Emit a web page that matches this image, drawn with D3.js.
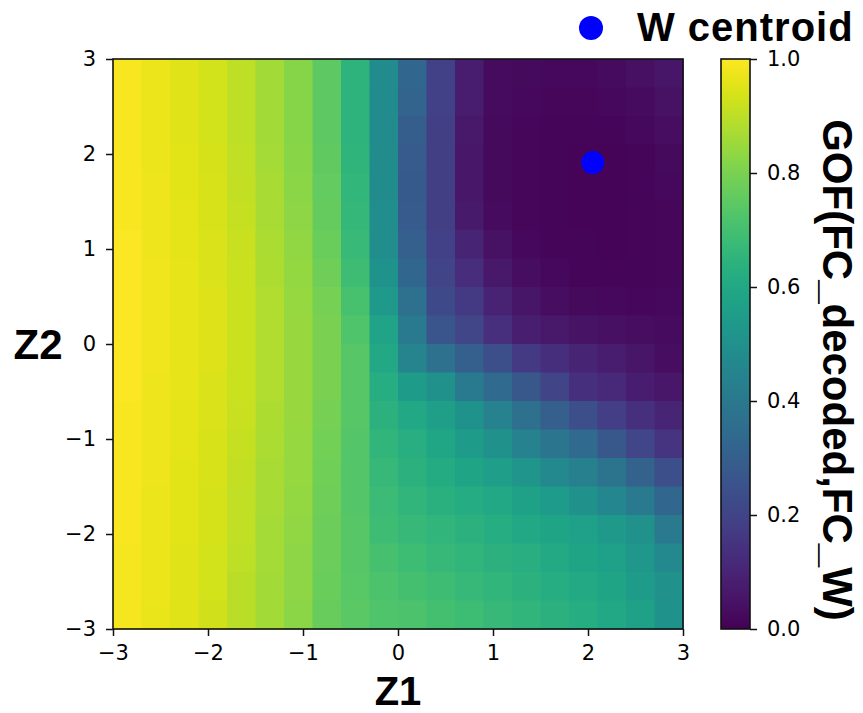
<!DOCTYPE html>
<html>
<head>
<meta charset="utf-8">
<script src="https://cdn.jsdelivr.net/npm/d3@7"></script>
<style>
  body { margin: 0; background: #fff; }
  svg { display: block; }
</style>
</head>
<body>
<script>
// Cell edges of the latent grid (Z1 left→right, Z2 top→bottom)
const z1Edges = [-3, -2.7, -2.4, -2.1, -1.8, -1.5, -1.2, -0.9, -0.6, -0.3, 0, 0.3, 0.6, 0.9, 1.2, 1.5, 1.8, 2.1, 2.4, 2.7, 3];
const z2Edges = [3, 2.7, 2.4, 2.1, 1.8, 1.5, 1.2, 0.9, 0.6, 0.3, 0, -0.3, -0.6, -0.9, -1.2, -1.5, -1.8, -2.1, -2.4, -2.7, -3];

// GOF(FC_decoded, FC_W) per cell; one row per Z2 band, from Z2 = 3 down to Z2 = -3
const gofRows = [
  [0.99, 0.97, 0.952, 0.93, 0.9, 0.862, 0.82, 0.75, 0.645, 0.48, 0.33, 0.19, 0.08, 0.03, 0.025, 0.02, 0.022, 0.03, 0.04, 0.055],
  [0.99, 0.97, 0.952, 0.93, 0.9, 0.862, 0.82, 0.75, 0.645, 0.48, 0.32, 0.19, 0.075, 0.028, 0.02, 0.016, 0.016, 0.02, 0.03, 0.045],
  [0.99, 0.97, 0.953, 0.932, 0.902, 0.863, 0.82, 0.75, 0.648, 0.48, 0.295, 0.185, 0.065, 0.025, 0.018, 0.014, 0.012, 0.014, 0.02, 0.035],
  [0.99, 0.972, 0.955, 0.935, 0.905, 0.865, 0.822, 0.755, 0.652, 0.481, 0.285, 0.185, 0.06, 0.025, 0.016, 0.012, 0.01, 0.01, 0.014, 0.025],
  [0.99, 0.974, 0.957, 0.938, 0.908, 0.868, 0.825, 0.76, 0.658, 0.482, 0.28, 0.185, 0.06, 0.025, 0.016, 0.012, 0.01, 0.01, 0.012, 0.02],
  [0.99, 0.975, 0.959, 0.94, 0.912, 0.871, 0.83, 0.765, 0.665, 0.485, 0.282, 0.185, 0.07, 0.03, 0.017, 0.012, 0.01, 0.01, 0.012, 0.018],
  [0.995, 0.976, 0.96, 0.943, 0.915, 0.874, 0.833, 0.77, 0.675, 0.49, 0.3, 0.19, 0.1, 0.045, 0.022, 0.014, 0.012, 0.011, 0.012, 0.018],
  [0.995, 0.977, 0.961, 0.945, 0.918, 0.877, 0.837, 0.78, 0.69, 0.505, 0.33, 0.2, 0.125, 0.065, 0.035, 0.02, 0.015, 0.013, 0.013, 0.018],
  [0.995, 0.977, 0.962, 0.946, 0.92, 0.879, 0.841, 0.79, 0.71, 0.54, 0.37, 0.22, 0.17, 0.095, 0.055, 0.035, 0.026, 0.022, 0.018, 0.02],
  [0.995, 0.977, 0.962, 0.946, 0.92, 0.88, 0.845, 0.797, 0.725, 0.58, 0.41, 0.26, 0.21, 0.135, 0.085, 0.065, 0.048, 0.04, 0.032, 0.028],
  [0.995, 0.977, 0.962, 0.946, 0.92, 0.88, 0.846, 0.8, 0.735, 0.6, 0.45, 0.37, 0.3, 0.24, 0.17, 0.13, 0.1, 0.075, 0.055, 0.035],
  [0.995, 0.976, 0.961, 0.945, 0.918, 0.879, 0.846, 0.797, 0.738, 0.62, 0.55, 0.5, 0.41, 0.34, 0.27, 0.2, 0.14, 0.11, 0.08, 0.06],
  [0.99, 0.975, 0.96, 0.943, 0.915, 0.877, 0.845, 0.792, 0.736, 0.64, 0.6, 0.56, 0.51, 0.44, 0.37, 0.3, 0.24, 0.18, 0.14, 0.1],
  [0.99, 0.974, 0.958, 0.94, 0.912, 0.874, 0.843, 0.787, 0.734, 0.655, 0.625, 0.59, 0.55, 0.5, 0.44, 0.39, 0.34, 0.27, 0.21, 0.15],
  [0.99, 0.973, 0.956, 0.938, 0.909, 0.871, 0.84, 0.783, 0.733, 0.67, 0.64, 0.61, 0.585, 0.555, 0.52, 0.47, 0.43, 0.38, 0.31, 0.24],
  [0.99, 0.972, 0.955, 0.936, 0.906, 0.868, 0.838, 0.78, 0.733, 0.68, 0.655, 0.635, 0.615, 0.6, 0.57, 0.545, 0.5, 0.46, 0.41, 0.33],
  [0.99, 0.971, 0.954, 0.934, 0.903, 0.866, 0.835, 0.777, 0.735, 0.69, 0.67, 0.655, 0.64, 0.62, 0.6, 0.585, 0.565, 0.54, 0.5, 0.41],
  [0.985, 0.97, 0.952, 0.932, 0.9, 0.864, 0.832, 0.774, 0.738, 0.705, 0.685, 0.67, 0.655, 0.64, 0.625, 0.605, 0.585, 0.565, 0.53, 0.47],
  [0.985, 0.969, 0.951, 0.93, 0.898, 0.862, 0.83, 0.77, 0.741, 0.715, 0.7, 0.69, 0.67, 0.655, 0.64, 0.62, 0.605, 0.585, 0.55, 0.5],
  [0.985, 0.968, 0.95, 0.928, 0.896, 0.86, 0.827, 0.767, 0.745, 0.725, 0.715, 0.7, 0.685, 0.67, 0.655, 0.64, 0.62, 0.6, 0.57, 0.51]
];

// Position of the W centroid in latent space
const centroidZ1 = [2.05];
const centroidZ2 = [1.91];

const axisTicks = [-3, -2, -1, 0, 1, 2, 3];
const axisTickLabels = ["\u22123", "\u22122", "\u22121", "0", "1", "2", "3"];
const cbarTicks = [0, 0.2, 0.4, 0.6, 0.8, 1.0];
const cbarTickLabels = ["0.0", "0.2", "0.4", "0.6", "0.8", "1.0"];

const xLabel = "Z1";
const yLabel = "Z2";
const cbarLabel = "GOF(FC_decoded,FC_W)";
const legendLabel = "W centroid";

// ---- layout ----
const W = 863, H = 713;
const plot = { left: 113, right: 683, top: 59, bottom: 629 };
const cbar = { left: 721, right: 750, top: 59, bottom: 629 };
const tickFont = "'DejaVu Sans', sans-serif";
const boldFont = "'Liberation Sans', Arial, sans-serif";

const svg = d3.select("body").append("svg")
  .attr("width", W).attr("height", H);

const x = d3.scaleLinear().domain([-3, 3]).range([plot.left, plot.right]);
const y = d3.scaleLinear().domain([-3, 3]).range([plot.bottom, plot.top]);
const color = d3.scaleSequential(d3.interpolateViridis).domain([0, 1]);

// ---- heatmap cells ----
const cells = [];
gofRows.forEach((row, r) => {
  row.forEach((v, c) => {
    cells.push({ x0: z1Edges[c], x1: z1Edges[c + 1], yTop: z2Edges[r], yBot: z2Edges[r + 1], v });
  });
});

svg.append("g").attr("class", "cells")
  .selectAll("rect").data(cells).join("rect")
  .attr("x", d => x(d.x0))
  .attr("y", d => y(d.yTop))
  .attr("width", d => x(d.x1) - x(d.x0) + 0.6)
  .attr("height", d => y(d.yBot) - y(d.yTop) + 0.6)
  .attr("fill", d => color(d.v));

// ---- centroid marker ----
svg.append("g").selectAll("circle")
  .data(centroidZ1.map((z1, i) => [z1, centroidZ2[i]]))
  .join("circle")
  .attr("cx", d => x(d[0]))
  .attr("cy", d => y(d[1]))
  .attr("r", 11.5)
  .attr("fill", "#0000ff");

// ---- frame ----
svg.append("rect")
  .attr("x", plot.left).attr("y", plot.top)
  .attr("width", plot.right - plot.left).attr("height", plot.bottom - plot.top)
  .attr("fill", "none").attr("stroke", "#111").attr("stroke-width", 1.6);

// ---- axes ----
function styleAxis(g) {
  g.select(".domain").remove();
  g.selectAll(".tick line").attr("stroke", "#111").attr("stroke-width", 1.5);
  g.selectAll(".tick text")
    .attr("fill", "#000")
    .style("font-family", tickFont)
    .style("font-size", "21px");
}

svg.append("g")
  .attr("transform", `translate(0,${plot.bottom})`)
  .call(d3.axisBottom(x).tickValues(axisTicks)
    .tickFormat((d, i) => axisTickLabels[i])
    .tickSize(7).tickSizeOuter(0).tickPadding(9))
  .call(styleAxis);

svg.append("g")
  .attr("transform", `translate(${plot.left},0)`)
  .call(d3.axisLeft(y).tickValues(axisTicks)
    .tickFormat((d, i) => axisTickLabels[i])
    .tickSize(7).tickSizeOuter(0).tickPadding(10))
  .call(styleAxis);

// axis titles
svg.append("text")
  .attr("x", (plot.left + plot.right) / 2).attr("y", 705)
  .attr("text-anchor", "middle")
  .style("font-family", boldFont).style("font-weight", "bold").style("font-size", "40px")
  .text(xLabel);

svg.append("text")
  .attr("x", 38).attr("y", (plot.top + plot.bottom) / 2)
  .attr("dy", "0.36em")
  .attr("text-anchor", "middle")
  .style("font-family", boldFont).style("font-weight", "bold").style("font-size", "42px")
  .text(yLabel);

// ---- colorbar ----
const cy = d3.scaleLinear().domain([0, 1]).range([cbar.bottom, cbar.top]);
const grad = svg.append("defs").append("linearGradient")
  .attr("id", "viridisGrad")
  .attr("x1", 0).attr("y1", 1).attr("x2", 0).attr("y2", 0);
d3.range(0, 1.0001, 0.02).forEach(t => {
  grad.append("stop").attr("offset", t).attr("stop-color", color(t));
});

svg.append("rect")
  .attr("x", cbar.left).attr("y", cbar.top)
  .attr("width", cbar.right - cbar.left).attr("height", cbar.bottom - cbar.top)
  .attr("fill", "url(#viridisGrad)")
  .attr("stroke", "#111").attr("stroke-width", 1.6);

svg.append("g")
  .attr("transform", `translate(${cbar.right},0)`)
  .call(d3.axisRight(cy).tickValues(cbarTicks)
    .tickFormat((d, i) => cbarTickLabels[i])
    .tickSize(7).tickSizeOuter(0).tickPadding(10))
  .call(styleAxis);

svg.append("text")
  .attr("transform", `translate(823,${(cbar.top + cbar.bottom) / 2 + 26}) rotate(90)`)
  .attr("text-anchor", "middle")
  .style("font-family", boldFont).style("font-weight", "bold").style("font-size", "42px")
  .text(cbarLabel);

// ---- legend ----
const legend = svg.append("g").attr("class", "legend");
legend.append("circle")
  .attr("cx", 591).attr("cy", 28).attr("r", 12)
  .attr("fill", "#0000ff");
legend.append("text")
  .attr("x", 637).attr("y", 41)
  .style("font-family", boldFont).style("font-weight", "bold").style("font-size", "40px")
  .style("letter-spacing", "1px")
  .text(legendLabel);
</script>
</body>
</html>
